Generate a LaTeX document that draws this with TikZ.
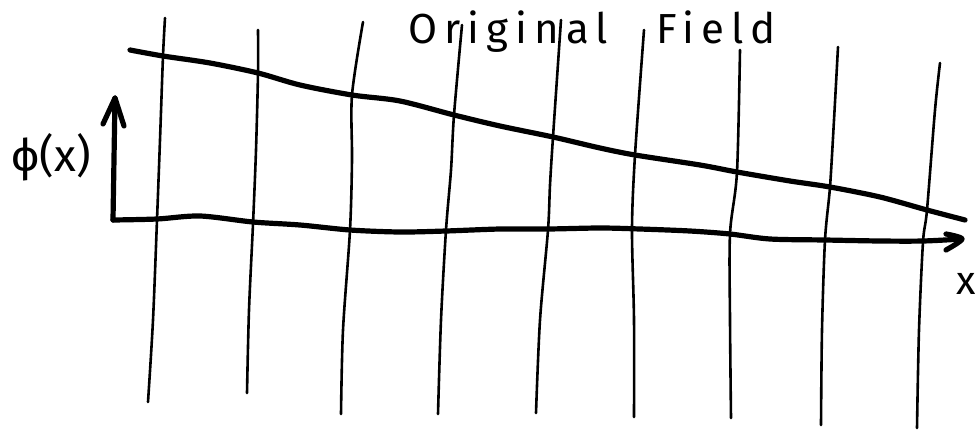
\documentclass[tikz,border=0pt]{standalone}
\usepackage{fontspec}
\setsansfont{Fira Sans}
\begin{document}
\begin{tikzpicture}[x=1pt,y=-1pt,
  thick stroke/.style={line width=5.2pt,line cap=round,line join=round},
  grid stroke/.style={line width=2.6pt,line cap=round},
  label text/.style={font=\sffamily\fontsize{36}{36}\selectfont,inner sep=0pt}]
\useasboundingbox (0,0) rectangle (975,429);
% vertical grid lines
\draw[grid stroke] plot[smooth] coordinates {(165,18) (163,56) (160,140) (157,220) (153,320) (148,402)};
\draw[grid stroke] plot[smooth] coordinates {(258,30) (258,73) (256,150) (253,224) (249,310) (247,393)};
\draw[grid stroke] plot[smooth] coordinates {(363,22) (352,95) (352,160) (350,230) (343,330) (341,414)};
\draw[grid stroke] plot[smooth] coordinates {(462,25) (454,115) (451,170) (446,230) (441,320) (438,414)};
\draw[grid stroke] plot[smooth] coordinates {(561,20) (553,137) (550,185) (548,230) (540,320) (536,413)};
\draw[grid stroke] plot[smooth] coordinates {(644,30) (635,155) (632,229) (634,320) (634,417)};
\draw[grid stroke] plot[smooth] coordinates {(740,50) (737,172) (730,234) (730,320) (731,418)};
\draw[grid stroke] plot[smooth] coordinates {(838,47) (834,120) (830,187) (825,240) (822,330) (821,425)};
\draw[grid stroke] plot[smooth] coordinates {(940,63) (935,110) (927,210) (923,242) (919,330) (917,428)};
% original field curve
\draw[thick stroke] plot[smooth] coordinates {(130,50) (163,56) (210,63) (258,73) (300,85) (352,95) (400,101) (454,115) (500,126) (553,137) (600,148) (635,155) (700,165) (737,172) (790,181) (830,187) (880,197) (927,210) (965,220)};
% vertical axis
\coordinate (origin) at (113,220);
\coordinate (ytip) at (115,98);
\draw[thick stroke] (origin) -- (ytip);
\draw[thick stroke] (103,124) -- (ytip) -- (124,126);
% horizontal axis
\coordinate (xtip) at (962,239);
\draw[thick stroke] plot[smooth] coordinates {(origin) (157,219) (200,216) (253,222) (300,225) (350,230) (400,232) (446,231) (500,229) (548,229) (600,228) (640,229) (690,231) (730,234) (770,239) (825,240) (880,241) (923,241) (xtip)};
\draw[thick stroke] plot[smooth] coordinates {(946,234) (962,239) (946,250)};
% labels
\node[label text,anchor=base,font=\sffamily\fontsize{42}{42}\selectfont] (title) at (592,43) {\addfontfeatures{LetterSpace=17}Original\hspace{48pt}Field};
\node[label text,font=\sffamily\fontsize{45}{45}\selectfont] (phi) at (51,157) {ϕ(x)};
\node[label text,font=\sffamily\fontsize{40}{40}\selectfont] (xlabel) at (966,284) {x};
\end{tikzpicture}
\end{document}
